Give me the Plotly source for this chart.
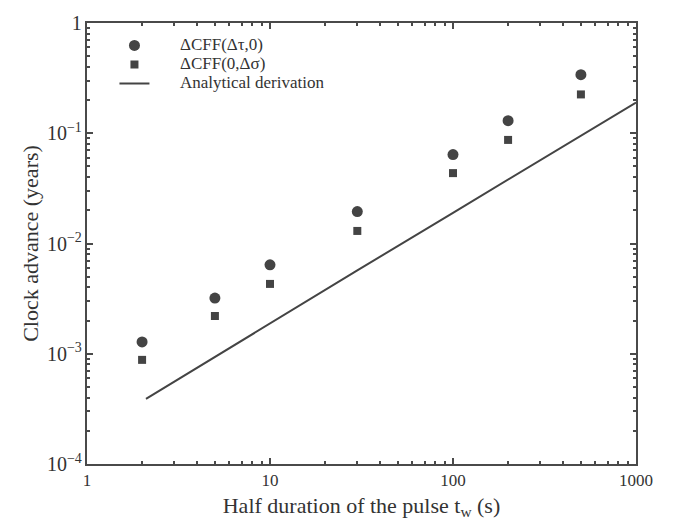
import plotly.graph_objects as go

# Half duration of the pulse (s)
tw = [2, 5, 10, 30, 100, 200, 500]
# Clock advance (years) from shear-stress and normal-stress changes
cff_tau = [1.28e-3, 3.2e-3, 6.4e-3, 1.95e-2, 6.4e-2, 0.13, 0.34]
cff_sigma = [8.8e-4, 2.2e-3, 4.3e-3, 1.3e-2, 4.35e-2, 8.7e-2, 0.225]
# Analytical derivation curve
tw_line = [2.1, 10, 30, 100, 200, 500, 1000]
adv_line = [3.9e-4, 1.9e-3, 5.7e-3, 1.9e-2, 3.8e-2, 9.5e-2, 0.19]

series_names = ["ΔCFF(Δτ,0)", "ΔCFF(0,Δσ)", "Analytical derivation"]

ink = "#444444"
axis_col = "#4a4a4a"
text_col = "#333333"
serif = "Liberation Serif, Times New Roman, serif"


def legend_label(text):
    # larger label text inside a compact legend row
    return '<span style="font-size:17px">' + "&nbsp;" * 6 + f"{text}</span>"


fig = go.Figure()
fig.add_trace(go.Scatter(
    x=tw, y=cff_tau, mode="markers", name=legend_label(series_names[0]),
    marker=dict(symbol="circle", size=11, color=ink)))
fig.add_trace(go.Scatter(
    x=tw, y=cff_sigma, mode="markers", name=legend_label(series_names[1]),
    marker=dict(symbol="square", size=8, color=ink)))
fig.add_trace(go.Scatter(
    x=tw_line, y=adv_line, mode="lines", name=legend_label(series_names[2]),
    line=dict(color=ink, width=2)))

axis_common = dict(
    type="log", showgrid=False, zeroline=False,
    showline=True, linecolor=axis_col, linewidth=2, mirror="ticks",
    tickmode="linear", tick0=0, dtick=1,
    ticks="inside", ticklen=6, tickwidth=2, tickcolor=axis_col,
    tickfont=dict(family=serif, size=17, color=text_col),
    minor=dict(ticks="inside", ticklen=3, tickwidth=1.5, tickcolor=axis_col,
               dtick="D1", showgrid=False),
)

fig.update_xaxes(
    range=[0, 3], exponentformat="none",
    title=dict(text="Half duration of the pulse t<sub>w</sub> (s)",
               font=dict(family=serif, size=22, color=text_col), standoff=8),
    **axis_common)
fig.update_yaxes(
    range=[-4, 0], exponentformat="power",
    title=dict(text="Clock advance (years)",
               font=dict(family=serif, size=22, color=text_col), standoff=2),
    **axis_common)
fig.update_yaxes(tickfont=dict(family=serif, size=16, color=text_col))

fig.update_layout(
    width=680, height=526,
    margin=dict(l=87, r=44, t=12, b=60),
    paper_bgcolor="white", plot_bgcolor="white",
    showlegend=True,
    legend=dict(x=0.05, y=0.982, xanchor="left", yanchor="top",
                bgcolor="rgba(0,0,0,0)", tracegroupgap=0,
                font=dict(family=serif, size=12, color=text_col)),
)

fig.write_html("out.html")
